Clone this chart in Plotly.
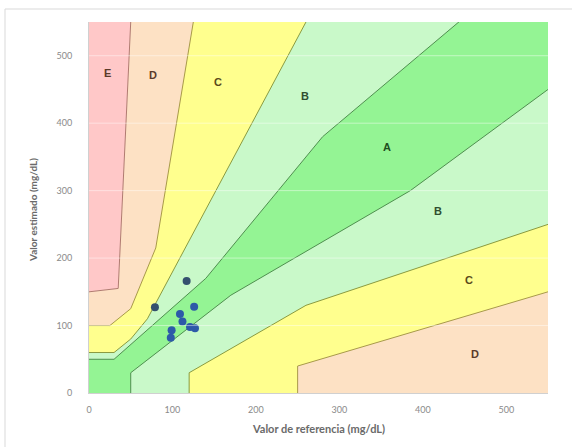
import plotly.graph_objects as go

# Parkes (consensus) error grid boundaries, type 1 (mg/dL)
a_upper_x = [0, 30, 140, 280, 5000]
a_upper_y = [50, 50, 170, 380, 5300]
a_lower_x = [50, 50, 170, 385, 550]
a_lower_y = [0, 30, 145, 300, 450]
b_upper_x = [0, 30, 50, 70, 260]
b_upper_y = [60, 60, 80, 110, 550]
b_lower_x = [120, 120, 260, 550]
b_lower_y = [0, 30, 130, 250]
c_upper_x = [0, 25, 50, 80, 125]
c_upper_y = [100, 100, 125, 215, 550]
c_lower_x = [250, 250, 550]
c_lower_y = [0, 40, 150]
d_upper_x = [0, 35, 50]
d_upper_y = [150, 155, 550]

# measured points
ref_dark = [117, 79]
est_dark = [166, 127]
ref_blue = [126, 109, 112, 121, 127, 99, 98]
est_blue = [128, 117, 106, 98, 96, 93, 82]

zone_labels = ["E", "D", "C", "B", "A", "B", "C", "D"]
zone_label_x = [22, 77, 155, 259, 357, 418, 455, 463]
zone_label_y = [474, 471, 461, 441, 364, 270, 167, 58]

XMAX, YMAX = 550, 550

col_e = "#ffc8c8"
col_d = "#fde1c4"
col_c = "#ffff8e"
col_b = "#c9f9c9"
col_a = "#94f494"

fig = go.Figure()

def poly(xs, ys, color):
    fig.add_trace(go.Scatter(x=xs, y=ys, fill="toself", fillcolor=color, mode="none",
                             hoverinfo="skip", showlegend=False))

# E (background for upper-left)
poly([0] + d_upper_x + [0], d_upper_y[:1] + d_upper_y + [YMAX], col_e)
# D (everything below D upper)
poly([0] + d_upper_x + [XMAX, XMAX], [0] + d_upper_y + [YMAX, 0], col_d)
# C
poly([0] + c_upper_x + [XMAX] + c_lower_x[::-1],
     [0] + c_upper_y + [YMAX] + c_lower_y[::-1], col_c)
# B
poly([0] + b_upper_x + [XMAX] + b_lower_x[::-1],
     [0] + b_upper_y + [YMAX] + b_lower_y[::-1], col_b)
# A
poly([0] + a_upper_x + a_lower_x[::-1],
     [0] + a_upper_y + a_lower_y[::-1], col_a)

def line(xs, ys, color):
    fig.add_trace(go.Scatter(x=xs, y=ys, mode="lines", line=dict(color=color, width=1),
                             hoverinfo="skip", showlegend=False))

line(d_upper_x, d_upper_y, "#b07a70")
line(c_upper_x, c_upper_y, "#a89a4a")
line(c_lower_x, c_lower_y, "#a89a4a")
line(b_upper_x, b_upper_y, "#8a9a40")
line(b_lower_x, b_lower_y, "#8a9a40")
line(a_upper_x, a_upper_y, "#4f8f4f")
line(a_lower_x, a_lower_y, "#4f8f4f")

fig.add_trace(go.Scatter(x=ref_blue, y=est_blue, mode="markers",
                         marker=dict(color="#2d5aa8", size=8), showlegend=False))
fig.add_trace(go.Scatter(x=ref_dark, y=est_dark, mode="markers",
                         marker=dict(color="#34506e", size=8), showlegend=False))

label_colors = {"E": "#5a3a2a", "D": "#5a3a2a", "C": "#5a4a1a", "B": "#2f4f2f", "A": "#1f4f1f"}
for t, x, y in zip(zone_labels, zone_label_x, zone_label_y):
    fig.add_annotation(x=x, y=y, text="<b>" + t + "</b>", showarrow=False,
                       font=dict(family="Liberation Sans", size=11, color=label_colors[t]))

# faint horizontal gridlines seen through the fills
for v in [100, 200, 300, 400, 500]:
    fig.add_shape(type="line", xref="x", yref="y", x0=0, x1=XMAX, y0=v, y1=v,
                  line=dict(color="rgba(255,255,255,0.45)", width=1), layer="above")

# chart area border (left and top)
fig.add_shape(type="line", xref="paper", yref="paper",
              x0=(5 - 89) / 459, x1=(5 - 89) / 459, y0=(393 - 447) / 371, y1=(393 - 9) / 371,
              line=dict(color="#d9d9d9", width=1))
fig.add_shape(type="line", xref="paper", yref="paper",
              x0=(5 - 89) / 459, x1=(575 - 89) / 459, y0=(393 - 9) / 371, y1=(393 - 9) / 371,
              line=dict(color="#d9d9d9", width=1))

fig.add_annotation(xref="paper", yref="paper", x=(318 - 89) / 459, y=(393 - 428) / 371,
                   text="<b>Valor de referencia (mg/dL)</b>", showarrow=False,
                   xanchor="center", yanchor="middle",
                   font=dict(family="Lato", size=11, color="#6a6a6a"))
fig.add_annotation(xref="paper", yref="paper", x=(33 - 89) / 459, y=(393 - 210) / 371,
                   text="<b>Valor estimado (mg/dL)</b>", showarrow=False, textangle=-90,
                   xanchor="center", yanchor="middle",
                   font=dict(family="Lato", size=10, color="#6a6a6a"))

fig.update_layout(
    width=572, height=448,
    margin=dict(l=89, r=24, t=22, b=55),
    paper_bgcolor="white", plot_bgcolor="white",
    font=dict(family="Lato", size=9, color="#8a8a8a"),
)
fig.update_xaxes(range=[0, XMAX], tickvals=[0, 100, 200, 300, 400, 500], showgrid=False,
                 zeroline=False, showline=True, linecolor="#d0d0d0", ticks="",
                 ticklabelstandoff=8, tickfont=dict(size=9, color="#8a8a8a"))
fig.update_yaxes(range=[0, YMAX], tickvals=[0, 100, 200, 300, 400, 500], showgrid=False,
                 zeroline=False, showline=True, linecolor="#d0d0d0", ticks="",
                 ticklabelstandoff=14, tickfont=dict(size=9, color="#8a8a8a"))

fig.write_html("out.html")
